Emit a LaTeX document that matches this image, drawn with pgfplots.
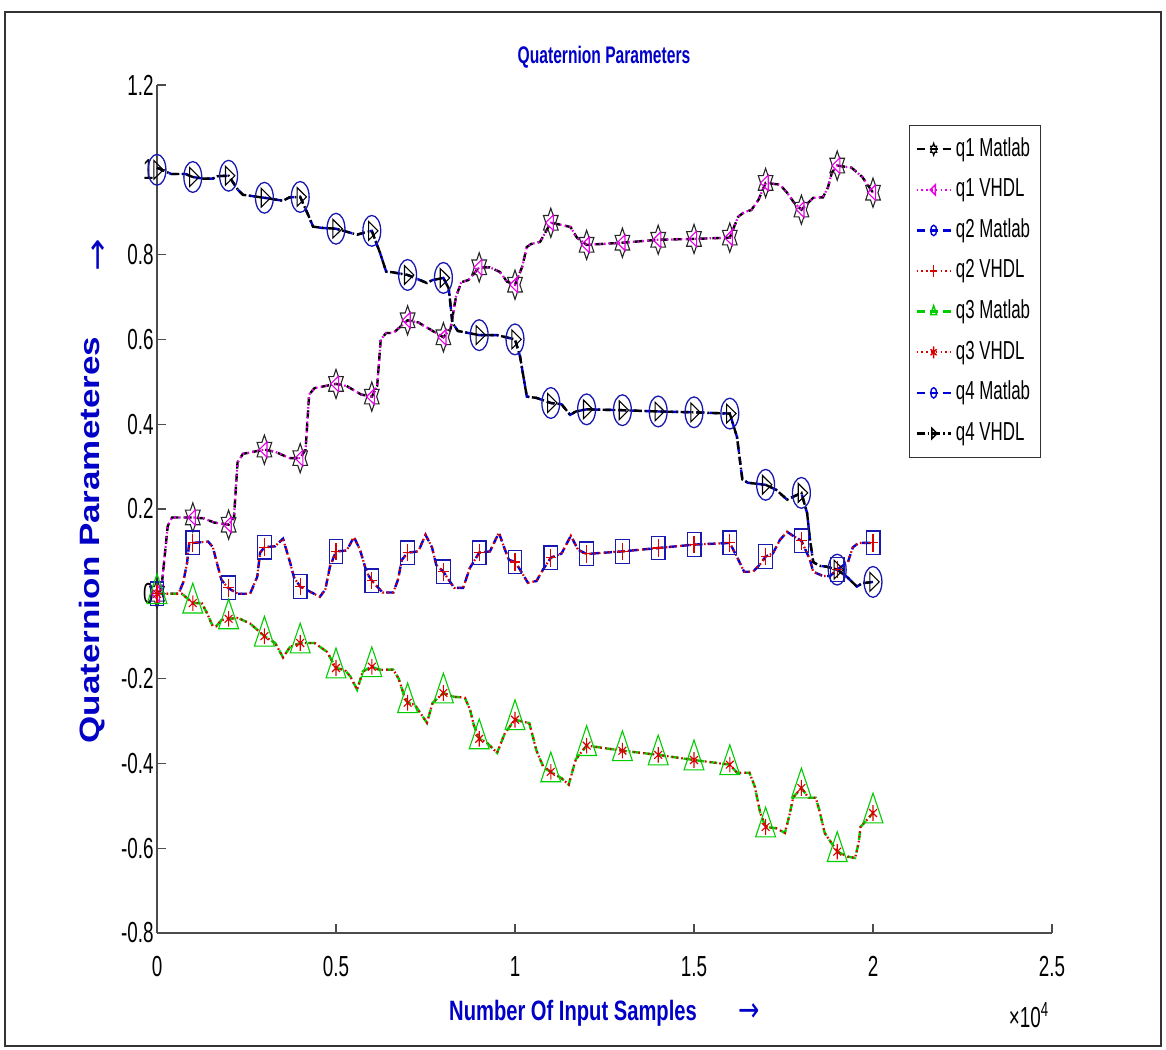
\documentclass[border=0pt]{standalone}
\usepackage{fontspec}
\setmainfont{Liberation Sans}[FakeStretch=0.65]
\newfontfamily\xlabfont{Liberation Sans}[FakeStretch=0.72]
\newfontfamily\ylabfont{Liberation Sans}[FakeStretch=1.25]
\newfontfamily\arrowfont{DejaVu Sans}[FakeStretch=0.75]
\newfontfamily\yarrowfont{DejaVu Sans}[FakeStretch=1.3]
\usepackage{pgfplots}
\pgfplotsset{compat=1.18}
\usepackage{pgfplotstable}

\definecolor{tblue}{rgb}{0,0,0.78}
\definecolor{mblue}{rgb}{0.1,0.1,0.7}
\definecolor{lblue}{rgb}{0,0,0.85}
\definecolor{mgreen}{rgb}{0,0.8,0}
\definecolor{mred}{rgb}{0.85,0,0}
\definecolor{mmag}{rgb}{0.9,0,0.9}

\pgfdeclareplotmark{hexagram}{%
  \pgfpathmoveto{\pgfpointpolar{90}{\pgfplotmarksize}}%
  \pgfpathlineto{\pgfpointpolar{120}{0.577\pgfplotmarksize}}%
  \pgfpathlineto{\pgfpointpolar{150}{\pgfplotmarksize}}%
  \pgfpathlineto{\pgfpointpolar{180}{0.577\pgfplotmarksize}}%
  \pgfpathlineto{\pgfpointpolar{210}{\pgfplotmarksize}}%
  \pgfpathlineto{\pgfpointpolar{240}{0.577\pgfplotmarksize}}%
  \pgfpathlineto{\pgfpointpolar{270}{\pgfplotmarksize}}%
  \pgfpathlineto{\pgfpointpolar{300}{0.577\pgfplotmarksize}}%
  \pgfpathlineto{\pgfpointpolar{330}{\pgfplotmarksize}}%
  \pgfpathlineto{\pgfpointpolar{0}{0.577\pgfplotmarksize}}%
  \pgfpathlineto{\pgfpointpolar{30}{\pgfplotmarksize}}%
  \pgfpathlineto{\pgfpointpolar{60}{0.577\pgfplotmarksize}}%
  \pgfpathclose
  \pgfusepathqstroke}

% marker points (x in units of 10^4 samples)
\pgfplotstableread{
x   q1     q2     q3      q4
0   0      0      0       1.0
0.1 0.18   0.12   -0.022  0.983
0.2 0.163  0.014  -0.059  0.986
0.3 0.34   0.11   -0.1    0.934
0.4 0.32   0.017  -0.116  0.936
0.5 0.495  0.10   -0.175  0.861
0.6 0.465  0.031  -0.172  0.856
0.7 0.645  0.097  -0.257  0.752
0.8 0.605  0.052  -0.234  0.745
0.9 0.77   0.097  -0.342  0.61
1.0 0.729  0.075  -0.297  0.60
1.1 0.875  0.085  -0.42   0.45
1.2 0.823  0.094  -0.358  0.435
1.3 0.828  0.10   -0.37   0.433
1.4 0.835  0.108  -0.38   0.43
1.5 0.837  0.116  -0.392  0.428
1.6 0.84   0.12   -0.403  0.425
1.7 0.969  0.088  -0.55   0.257
1.8 0.906  0.125  -0.458  0.238
1.9 1.01   0.057  -0.608  0.057
2.0 0.946  0.12   -0.517  0.028
}\marks

\pgfplotstableread{
x y
0 0
0.012 0.01
0.03 0.16
0.042 0.18
0.1 0.18
0.13 0.178
0.16 0.168
0.2 0.163
0.215 0.18
0.225 0.31
0.24 0.33
0.3 0.34
0.33 0.335
0.37 0.32
0.4 0.32
0.415 0.34
0.425 0.47
0.44 0.485
0.5 0.495
0.53 0.49
0.57 0.47
0.6 0.465
0.615 0.49
0.625 0.60
0.64 0.615
0.66 0.615
0.7 0.645
0.73 0.64
0.76 0.625
0.8 0.605
0.82 0.625
0.835 0.70
0.85 0.735
0.87 0.74
0.9 0.77
0.93 0.77
0.958 0.759
0.978 0.736
1.0 0.729
1.02 0.771
1.033 0.818
1.045 0.825
1.07 0.83
1.1 0.875
1.13 0.87
1.155 0.865
1.173 0.84
1.2 0.823
1.3 0.828
1.4 0.835
1.5 0.837
1.6 0.84
1.623 0.889
1.64 0.9
1.66 0.905
1.68 0.929
1.7 0.969
1.74 0.965
1.76 0.946
1.78 0.922
1.8 0.906
1.833 0.934
1.86 0.935
1.874 0.958
1.885 0.993
1.9 1.01
1.94 1.005
1.97 0.983
2.0 0.946
}\qone

\pgfplotstableread{
x y
0 0
0.06 0.0
0.073 0.026
0.084 0.073
0.09 0.12
0.1 0.12
0.143 0.123
0.156 0.11
0.17 0.064
0.18 0.033
0.198 0.014
0.226 0.0
0.26 0.0
0.28 0.04
0.288 0.097
0.3 0.11
0.33 0.112
0.352 0.13
0.372 0.073
0.383 0.038
0.4 0.017
0.455 -0.007
0.47 0.01
0.483 0.064
0.5 0.10
0.53 0.102
0.55 0.134
0.567 0.104
0.586 0.05
0.6 0.031
0.63 0.003
0.66 0.003
0.673 0.033
0.684 0.08
0.7 0.097
0.73 0.10
0.75 0.139
0.768 0.11
0.78 0.068
0.8 0.052
0.83 0.014
0.855 0.014
0.874 0.061
0.9 0.097
0.93 0.10
0.955 0.144
0.972 0.104
0.983 0.08
1.0 0.075
1.014 0.057
1.036 0.026
1.06 0.03
1.078 0.057
1.1 0.085
1.13 0.095
1.156 0.137
1.176 0.104
1.2 0.094
1.3 0.10
1.4 0.108
1.5 0.116
1.6 0.12
1.62 0.087
1.64 0.052
1.665 0.052
1.685 0.07
1.7 0.088
1.72 0.095
1.74 0.127
1.76 0.146
1.78 0.135
1.8 0.125
1.824 0.08
1.833 0.052
1.86 0.042
1.88 0.042
1.9 0.057
1.93 0.075
1.944 0.11
1.96 0.12
2.0 0.12
}\qtwo

\pgfplotstableread{
x y
0 0
0.07 0
0.1 -0.022
0.125 -0.022
0.14 -0.046
0.156 -0.077
0.165 -0.077
0.18 -0.062
0.2 -0.059
0.226 -0.057
0.26 -0.07
0.3 -0.1
0.33 -0.116
0.352 -0.15
0.372 -0.125
0.4 -0.116
0.44 -0.116
0.475 -0.137
0.5 -0.175
0.525 -0.18
0.54 -0.195
0.559 -0.226
0.575 -0.183
0.6 -0.172
0.62 -0.179
0.66 -0.179
0.675 -0.2
0.69 -0.24
0.7 -0.257
0.72 -0.262
0.754 -0.304
0.77 -0.257
0.8 -0.234
0.83 -0.243
0.86 -0.245
0.875 -0.275
0.885 -0.31
0.9 -0.342
0.92 -0.35
0.95 -0.375
0.972 -0.328
1.0 -0.297
1.04 -0.305
1.06 -0.37
1.08 -0.41
1.1 -0.42
1.13 -0.435
1.15 -0.45
1.17 -0.39
1.2 -0.358
1.3 -0.37
1.4 -0.38
1.5 -0.392
1.6 -0.403
1.62 -0.422
1.655 -0.422
1.67 -0.455
1.685 -0.517
1.7 -0.55
1.73 -0.553
1.754 -0.564
1.768 -0.517
1.777 -0.48
1.8 -0.458
1.82 -0.481
1.84 -0.481
1.85 -0.51
1.865 -0.564
1.9 -0.608
1.93 -0.62
1.95 -0.623
1.96 -0.587
1.965 -0.55
2.0 -0.517
}\qthree

\pgfplotstableread{
x y
0 1.005
0.04 0.99
0.08 0.99
0.1 0.983
0.13 0.979
0.155 0.979
0.17 0.985
0.2 0.986
0.226 0.953
0.24 0.941
0.3 0.934
0.352 0.927
0.37 0.935
0.4 0.936
0.42 0.898
0.436 0.866
0.46 0.863
0.5 0.861
0.559 0.847
0.58 0.852
0.6 0.856
0.623 0.804
0.64 0.76
0.66 0.758
0.7 0.752
0.754 0.733
0.77 0.74
0.8 0.745
0.815 0.72
0.825 0.64
0.84 0.62
0.87 0.615
0.9 0.61
0.95 0.61
1.0 0.60
1.014 0.56
1.033 0.465
1.06 0.462
1.1 0.45
1.13 0.447
1.154 0.422
1.17 0.43
1.2 0.435
1.3 0.433
1.4 0.43
1.5 0.428
1.6 0.425
1.62 0.37
1.635 0.27
1.65 0.262
1.7 0.257
1.73 0.245
1.76 0.222
1.78 0.23
1.8 0.238
1.816 0.19
1.824 0.127
1.833 0.075
1.85 0.066
1.87 0.064
1.9 0.057
1.927 0.04
1.955 0.017
1.97 0.025
2.0 0.028
}\qfour

\tikzset{
  mdash/.style={line width=1.2pt, dash pattern=on 4pt off 2.5pt},
  vdot/.style={line width=1.1pt, dash pattern=on 0.8pt off 1.6pt},
  vdashdot/.style={line width=1.2pt, dash pattern=on 4pt off 1.5pt on 0.8pt off 1.5pt},
}

\begin{document}
\begin{tikzpicture}
\useasboundingbox (-78.5pt,-58pt) rectangle (504.5pt,466.5pt);
\begin{axis}[
  at={(0pt,0pt)}, anchor=south west,
  scale only axis, width=447.5pt, height=424pt,
  xmin=0, xmax=2.5, ymin=-0.8, ymax=1.2,
  axis lines=left,
  axis line style={-, black!70, line width=0.6pt},
  every outer x axis line/.append style={-},
  every outer y axis line/.append style={-},
  xtick={0,0.5,1,1.5,2,2.5},
  xticklabels={0,0.5,1,1.5,2,2.5},
  ytick={-0.8,-0.6,-0.4,-0.2,0,0.2,0.4,0.6,0.8,1,1.2},
  yticklabels={-0.8,-0.6,-0.4,-0.2,0,0.2,0.4,0.6,0.8,1,1.2},
  tick align=inside, major tick length=4.5pt,
  tick style={black!70, line width=0.6pt},
  tick label style={font=\fontsize{14.5}{14.5}\selectfont, black},
  xticklabel style={yshift=-8pt},
  yticklabel style={inner sep=1.5pt},
  /pgf/number format/assume math mode=true,
  clip=false,
  legend cell align=left,
  legend style={at={(rel axis cs:0.840,0.953)}, anchor=north west,
    draw=black!80, line width=0.6pt, fill=white,
    font=\fontsize{13}{13}\selectfont,
    row sep=4.5pt, inner xsep=3pt, inner ysep=4pt,
    nodes={inner sep=2pt, text height=9.3pt, text depth=2.5pt}},
]
% legend
\addlegendimage{black, mdash, mark=hexagram, mark size=3pt, mark options={solid, xscale=0.58, line width=0.6pt}}
\addlegendentry{q1 Matlab}
\addlegendimage{mmag, vdot, mark=triangle, mark size=3pt, mark options={solid, xscale=0.58, rotate=90, line width=0.7pt}}
\addlegendentry{q1 VHDL}
\addlegendimage{lblue, mdash, mark=o, mark size=2.6pt, mark options={solid, xscale=0.58, line width=0.7pt}}
\addlegendentry{q2 Matlab}
\addlegendimage{mred, vdot, mark=+, mark size=3pt, mark options={solid, xscale=0.58, line width=0.7pt}}
\addlegendentry{q2 VHDL}
\addlegendimage{mgreen, mdash, mark=triangle, mark size=3pt, mark options={solid, xscale=0.58, line width=0.7pt}}
\addlegendentry{q3 Matlab}
\addlegendimage{mred, vdot, mark=asterisk, mark size=3pt, mark options={solid, xscale=0.58, line width=0.7pt}}
\addlegendentry{q3 VHDL}
\addlegendimage{lblue, mdash, mark=o, mark size=2.6pt, mark options={solid, xscale=0.58, line width=0.7pt}}
\addlegendentry{q4 Matlab}
\addlegendimage{black, vdashdot, mark=triangle, mark size=3pt, mark options={solid, xscale=0.58, rotate=-90, line width=0.7pt}}
\addlegendentry{q4 VHDL}

% lines
\addplot[forget plot, black, mdash] table[x=x,y=y] {\qone};
\addplot[forget plot, mmag, vdot] table[x=x,y=y] {\qone};
\addplot[forget plot, lblue, mdash] table[x=x,y=y] {\qtwo};
\addplot[forget plot, mred, vdot] table[x=x,y=y] {\qtwo};
\addplot[forget plot, mgreen, mdash] table[x=x,y=y] {\qthree};
\addplot[forget plot, mred, vdot] table[x=x,y=y] {\qthree};
\addplot[forget plot, lblue, mdash] table[x=x,y=y] {\qfour};
\addplot[forget plot, black, vdashdot] table[x=x,y=y] {\qfour};

% markers
\addplot[forget plot, only marks, black!85, mark=hexagram, mark size=7.3pt, mark options={solid, xscale=0.58, line width=0.55pt}] table[x=x,y=q1] {\marks};
\addplot[forget plot, only marks, mmag, mark=triangle, mark size=4.5pt, mark options={solid, xscale=0.58, rotate=90, line width=0.55pt}] table[x=x,y=q1] {\marks};
\addplot[forget plot, only marks, mblue, mark=square, mark size=5.9pt, mark options={solid, xscale=0.58, line width=0.65pt}] table[x=x,y=q2] {\marks};
\addplot[forget plot, only marks, mred, mark=+, mark size=4.4pt, mark options={solid, xscale=0.58, line width=0.55pt}] table[x=x,y=q2] {\marks};
\addplot[forget plot, only marks, mgreen, mark=triangle, mark size=9.9pt, mark options={solid, xscale=0.58, line width=0.55pt}] table[x=x,y=q3] {\marks};
\addplot[forget plot, only marks, mred, mark=asterisk, mark size=3.9pt, mark options={solid, xscale=0.58, line width=0.55pt}] table[x=x,y=q3] {\marks};
\addplot[forget plot, only marks, mblue, mark=o, mark size=7.7pt, mark options={solid, xscale=0.58, line width=0.65pt}] table[x=x,y=q4] {\marks};
\addplot[forget plot, only marks, black, mark=triangle, mark size=5.4pt, mark options={solid, xscale=0.58, rotate=-90, line width=0.55pt}] table[x=x,y=q4] {\marks};
\end{axis}

% texts
\node[font=\bfseries\fontsize{12}{12}\selectfont, text=tblue] at (223.5pt,438pt) {Quaternion Parameters};
\node[font=\xlabfont\bfseries\fontsize{14}{14}\selectfont, text=tblue] at (208pt,-40pt) {Number Of Input Samples};
\node[font=\arrowfont\fontsize{17}{17}\selectfont, text=tblue] at (296pt,-40pt) {→};
\node[rotate=90, font=\ylabfont\bfseries\fontsize{14}{14}\selectfont, text=tblue] at (-32.5pt,196.5pt) {Quaternion Parameteres};
\node[rotate=90, font=\yarrowfont\fontsize{15}{15}\selectfont, text=tblue] at (-28.5pt,339pt) {→};
\node[font=\fontsize{14.5}{14.5}\selectfont] at (436pt,-41pt) {×10\textsuperscript{4}};
% frame
\draw[line width=1pt, black!80] (-76pt,-56.5pt) rectangle (502pt,460.5pt);
\end{tikzpicture}
\end{document}
